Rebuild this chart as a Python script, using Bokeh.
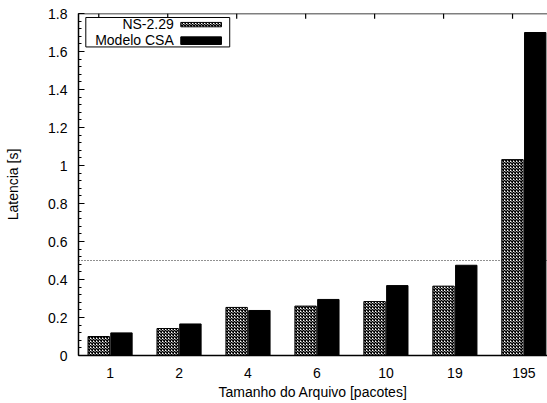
import numpy as np
from bokeh.plotting import figure
from bokeh.models import Range1d, FixedTicker, Span
from bokeh.core.properties import value
from bokeh.embed import file_html
from bokeh.resources import INLINE

# ---- data ----
categories = ["1", "2", "4", "6", "10", "19", "195"]
ns_229 = [0.100, 0.142, 0.253, 0.260, 0.284, 0.365, 1.031]
modelo_csa = [0.119, 0.166, 0.237, 0.295, 0.368, 0.475, 1.700]
y_ticks = [0, 0.2, 0.4, 0.6, 0.8, 1.0, 1.2, 1.4, 1.6, 1.8]
y_tick_labels = ["0", "0.2", "0.4", "0.6", "0.8", "1", "1.2", "1.4", "1.6", "1.8"]
reference_level = 0.5
series_names = ["NS-2.29", "Modelo CSA"]

FONT = "Liberation Sans"
FS = "14px"

idx = np.arange(len(categories))
Y_MAX = 1.8

p = figure(width=547, height=403, output_backend="svg", toolbar_location=None,
           x_range=Range1d(-0.458, 6.343), y_range=Range1d(0, Y_MAX),
           min_border_left=78, min_border_right=0, min_border_top=13,
           min_border_bottom=48)
p.outline_line_color = None
p.xgrid.visible = False
p.ygrid.visible = False
p.background_fill_color = "white"
p.border_fill_color = "white"

# reference dotted line
p.add_layout(Span(location=reference_level, dimension="width", line_color="#222222",
                  line_width=1, line_dash="1 2", level="underlay"))

bw = 0.31
off = 0.165
p.vbar(x=idx - off, top=ns_229, bottom=0, width=bw, fill_color="white",
       hatch_pattern="diagonal_cross", hatch_color="black", hatch_scale=3.0,
       hatch_weight=1.5, line_color="black", line_width=1)
p.vbar(x=idx + off, top=modelo_csa, bottom=0, width=bw, fill_color="black",
       line_color="black", line_width=1)

# x axis (bottom)
xa = p.xaxis[0]
xa.ticker = FixedTicker(ticks=list(idx))
xa.major_label_overrides = {int(i): c for i, c in zip(idx, categories)}
xa.major_tick_in = 0
xa.major_tick_out = 0
xa.minor_tick_in = 0
xa.minor_tick_out = 0
xa.axis_label = "Tamanho do Arquivo [pacotes]"
xa.axis_line_color = "black"
xa.axis_line_width = 1.5
xa.major_label_standoff = 12
xa.axis_label_standoff = 3

# y axis (left)
ya = p.yaxis[0]
minor = [round(v, 2) for v in np.arange(0, 1.8001, 0.04)]
ya.ticker = FixedTicker(ticks=y_ticks, minor_ticks=minor)
ya.major_label_overrides = {t: l for t, l in zip(y_ticks, y_tick_labels)}
ya.major_tick_in = 6
ya.major_tick_out = 0
ya.minor_tick_in = 3
ya.minor_tick_out = 0
ya.axis_label = "Latencia [s]"
ya.axis_line_color = "black"
ya.axis_line_width = 1.5
ya.major_label_standoff = 11
ya.axis_label_standoff = 24

for ax in (xa, ya):
    ax.major_label_text_font = FONT
    ax.major_label_text_font_size = FS
    ax.axis_label_text_font = FONT
    ax.axis_label_text_font_size = FS
    ax.axis_label_text_font_style = "normal"
    ax.major_label_text_color = "black"
    ax.axis_label_text_color = "black"

# top border with mirrored ticks (no labels)
p.add_layout(Span(location=Y_MAX, dimension="width", line_color="black", line_width=1.5))
tick_x = idx - 0.164
p.segment(x0=tick_x, y0=[Y_MAX] * len(idx), x1=tick_x, y1=[Y_MAX - 0.027] * len(idx),
          line_color="black", line_width=1.2)

# legend box (drawn manually: label left of swatch)
p.quad(left=[-0.352], right=[1.735], top=[1.779], bottom=[1.624],
       fill_color="white", line_color="black", line_width=1)
p.text(x=[0.923, 0.923], y=[1.745, 1.66], text=series_names,
       text_align="right", text_baseline="middle",
       text_font=value(FONT), text_font_size=FS, text_color="black")
p.quad(left=[1.025], right=[1.615], top=[1.753], bottom=[1.73],
       fill_color="white", hatch_pattern="diagonal_cross", hatch_color="black",
       hatch_scale=3.0, hatch_weight=1.5, line_color="black", line_width=1)
p.quad(left=[1.025], right=[1.615], top=[1.677], bottom=[1.637],
       fill_color="black", line_color="black", line_width=1)

open("out.html", "w").write(file_html(p, INLINE))
